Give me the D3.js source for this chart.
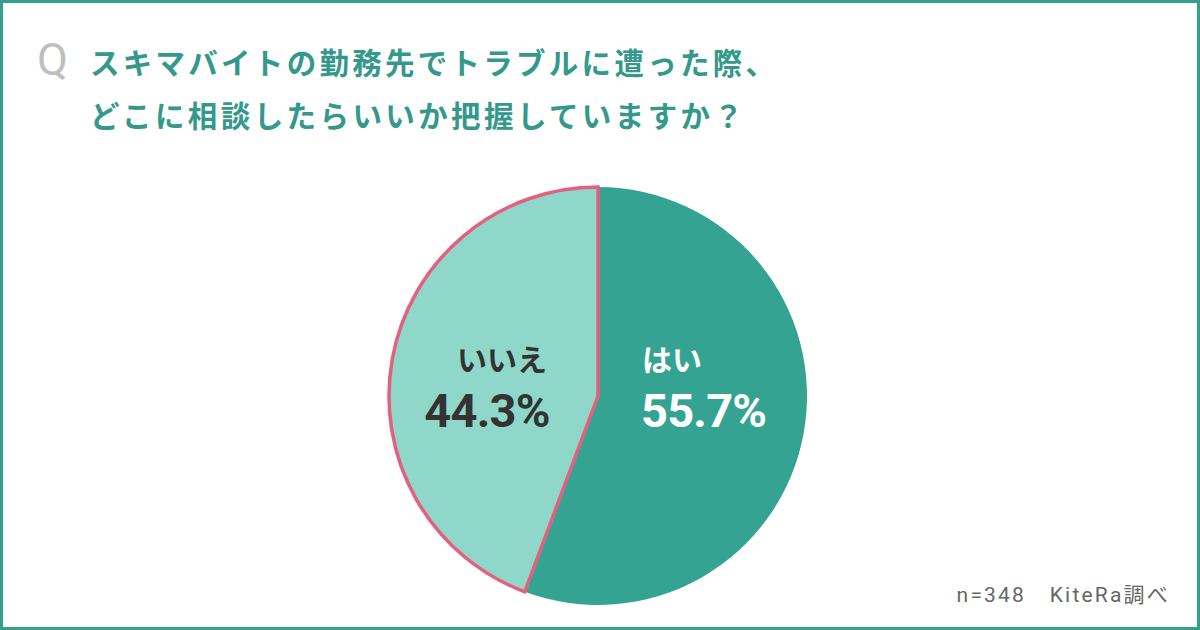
<!DOCTYPE html>
<html>
<head>
<meta charset="utf-8">
<title>Pie Chart</title>
<script src="https://d3js.org/d3.v7.min.js"></script>
<style>
  body { margin: 0; }
  svg { display: block; }
</style>
</head>
<body>
<div id="chart"></div>
<script>
var categories = ['はい', 'いいえ'];
var values = [55.7, 44.3];
var titleLines = ['スキマバイトの勤務先でトラブルに遭った際、', 'どこに相談したらいいか把握していますか？'];
var note = 'n=348\u2003KiteRa調べ';

var width = 1200, height = 630,
    cx = 598, cy = 396, radius = 209;

var fills = ['#34a392', '#8fd8c9'];
var labelColors = ['#ffffff', '#333333'];
var titleWidths = [685, 653];
var jp = '"Noto Sans CJK JP", "Noto Sans", sans-serif';

var svg = d3.select('#chart').append('svg')
  .attr('width', width)
  .attr('height', height);

svg.append('rect')
  .attr('x', 1.5).attr('y', 1.5)
  .attr('width', width - 3).attr('height', height - 3)
  .attr('fill', '#fff')
  .attr('stroke', '#35a08f')
  .attr('stroke-width', 3);

svg.append('text')
  .attr('x', 37).attr('y', 75)
  .attr('fill', '#bfbfbf')
  .style('font', '400 45px Roboto, sans-serif')
  .text('Q');

svg.selectAll('text.title')
  .data(titleLines)
  .enter().append('text')
  .attr('class', 'title')
  .attr('x', 90)
  .attr('y', function(d, i) { return 74 + i * 53; })
  .attr('textLength', function(d, i) { return titleWidths[i]; })
  .attr('lengthAdjust', 'spacing')
  .attr('fill', '#34988a')
  .style('font-family', jp)
  .style('font-weight', 700)
  .style('font-size', '29.5px')
  .text(function(d) { return d; });

var g = svg.append('g')
  .attr('transform', 'translate(' + cx + ',' + cy + ')');

var pie = d3.pie().value(function(d) { return d; }).sort(null);
var arc = d3.arc().innerRadius(0).outerRadius(radius);
var arcs = pie(values);

g.selectAll('path')
  .data(arcs)
  .enter().append('path')
  .attr('d', arc)
  .attr('fill', function(d, i) { return fills[i]; });

// pink outline on the "いいえ" slice
g.append('path')
  .attr('d', arc(arcs[1]))
  .attr('fill', 'none')
  .attr('stroke', '#e5607f')
  .attr('stroke-width', 3.5)
  .attr('stroke-linejoin', 'miter');

var labelPos = [[44, -25], [-98, -25]];
var anchors = ['start', 'middle'];
var lab = g.selectAll('g.lab')
  .data(arcs)
  .enter().append('g')
  .attr('class', 'lab')
  .attr('transform', function(d, i) { return 'translate(' + labelPos[i] + ')'; });

lab.append('text')
  .attr('x', function(d, i) { return i === 0 ? 0 : 2; })
  .attr('text-anchor', function(d, i) { return anchors[i]; })
  .attr('fill', function(d, i) { return labelColors[i]; })
  .style('font-family', jp)
  .style('font-weight', 700)
  .style('font-size', '30px')
  .text(function(d, i) { return categories[i]; });

lab.append('text')
  .attr('x', function(d, i) { return i === 0 ? -1 : -13; })
  .attr('y', 56)
  .attr('text-anchor', function(d, i) { return anchors[i]; })
  .attr('fill', function(d, i) { return labelColors[i]; })
  .style('font-family', 'Roboto, sans-serif')
  .style('font-weight', 700)
  .style('font-size', '47px')
  .style('letter-spacing', '-0.8px')
  .text(function(d) { return d3.format('.1f')(d.value) + '%'; });

svg.append('text')
  .attr('x', 1170).attr('y', 602)
  .attr('text-anchor', 'end')
  .attr('fill', '#666')
  .style('font-family', 'Roboto, ' + jp)
  .style('font-size', '21px')
  .style('letter-spacing', '2.2px')
  .text(note);
</script>
</body>
</html>
